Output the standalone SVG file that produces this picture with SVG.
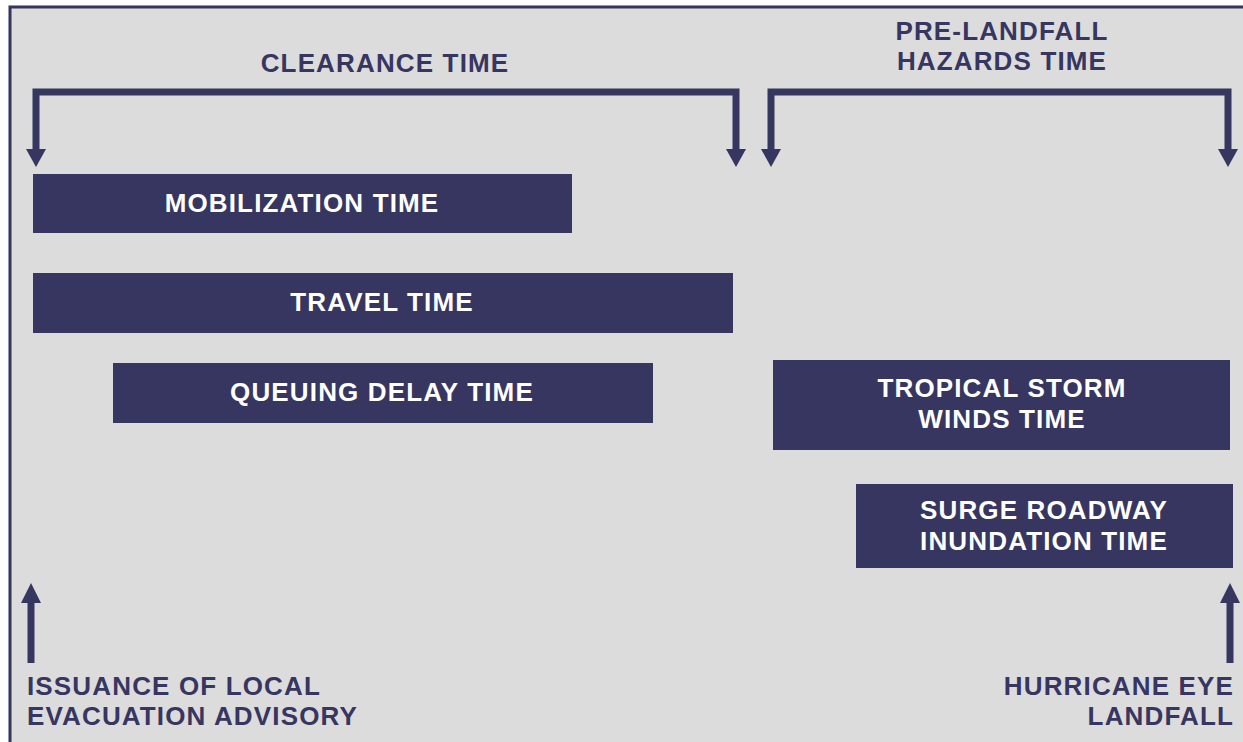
<svg xmlns="http://www.w3.org/2000/svg" width="1243" height="742" viewBox="0 0 1243 742">
<defs>
<style>
.bg{fill:#dcdcdc;stroke:#35355f;stroke-width:3}
.bar{fill:#363661}
.lbl{font-family:"Liberation Sans",Arial,sans-serif;font-weight:bold;font-size:26px;letter-spacing:1.15px;fill:#ffffff;text-anchor:middle}
.cap{font-family:"Liberation Sans",Arial,sans-serif;font-weight:bold;font-size:26px;letter-spacing:1.15px;fill:#363661}
.ln{fill:none;stroke:#363661;stroke-width:7}
.head{fill:#363661}
</style>
</defs>
<rect x="0" y="0" width="1243" height="742" fill="#ffffff"/>
<rect class="bg" x="10" y="7" width="1250" height="760"/>
<g id="connectors">
<path class="ln" d="M36,150 V92 H736 V150"/>
<polygon class="head" points="26,149 46,149 36,167"/>
<polygon class="head" points="726,149 746,149 736,167"/>
<path class="ln" d="M771,150 V92 H1228 V150"/>
<polygon class="head" points="761,149 781,149 771,167"/>
<polygon class="head" points="1218,149 1238,149 1228,167"/>
<path class="ln" d="M31,663 V600"/>
<polygon class="head" points="21,603 41,603 31,583"/>
<path class="ln" d="M1230,663 V600"/>
<polygon class="head" points="1220,603 1240,603 1230,583"/>
</g>
<g id="clearance-time"><text class="cap" x="385" y="72" text-anchor="middle">CLEARANCE TIME</text></g>
<g id="pre-landfall"><text class="cap" x="1002" y="40" text-anchor="middle">PRE-LANDFALL</text><text class="cap" x="1002" y="70" text-anchor="middle">HAZARDS TIME</text></g>
<g id="mobilization"><rect class="bar" x="33" y="174" width="539" height="59"/><text class="lbl" x="302" y="212">MOBILIZATION TIME</text></g>
<g id="travel"><rect class="bar" x="33" y="273" width="700" height="60"/><text class="lbl" x="382" y="311">TRAVEL TIME</text></g>
<g id="queuing"><rect class="bar" x="113" y="363" width="540" height="60"/><text class="lbl" x="382" y="401">QUEUING DELAY TIME</text></g>
<g id="tropical"><rect class="bar" x="773" y="360" width="457" height="90"/><text class="lbl" x="1002" y="397">TROPICAL STORM</text><text class="lbl" x="1002" y="428">WINDS TIME</text></g>
<g id="surge"><rect class="bar" x="856" y="484" width="377" height="84"/><text class="lbl" x="1044" y="519">SURGE ROADWAY</text><text class="lbl" x="1044" y="550">INUNDATION TIME</text></g>
<g id="issuance"><text class="cap" x="27" y="695">ISSUANCE OF LOCAL</text><text class="cap" x="27" y="725">EVACUATION ADVISORY</text></g>
<g id="landfall"><text class="cap" x="1234" y="695" text-anchor="end">HURRICANE EYE</text><text class="cap" x="1234" y="725" text-anchor="end">LANDFALL</text></g>
</svg>
